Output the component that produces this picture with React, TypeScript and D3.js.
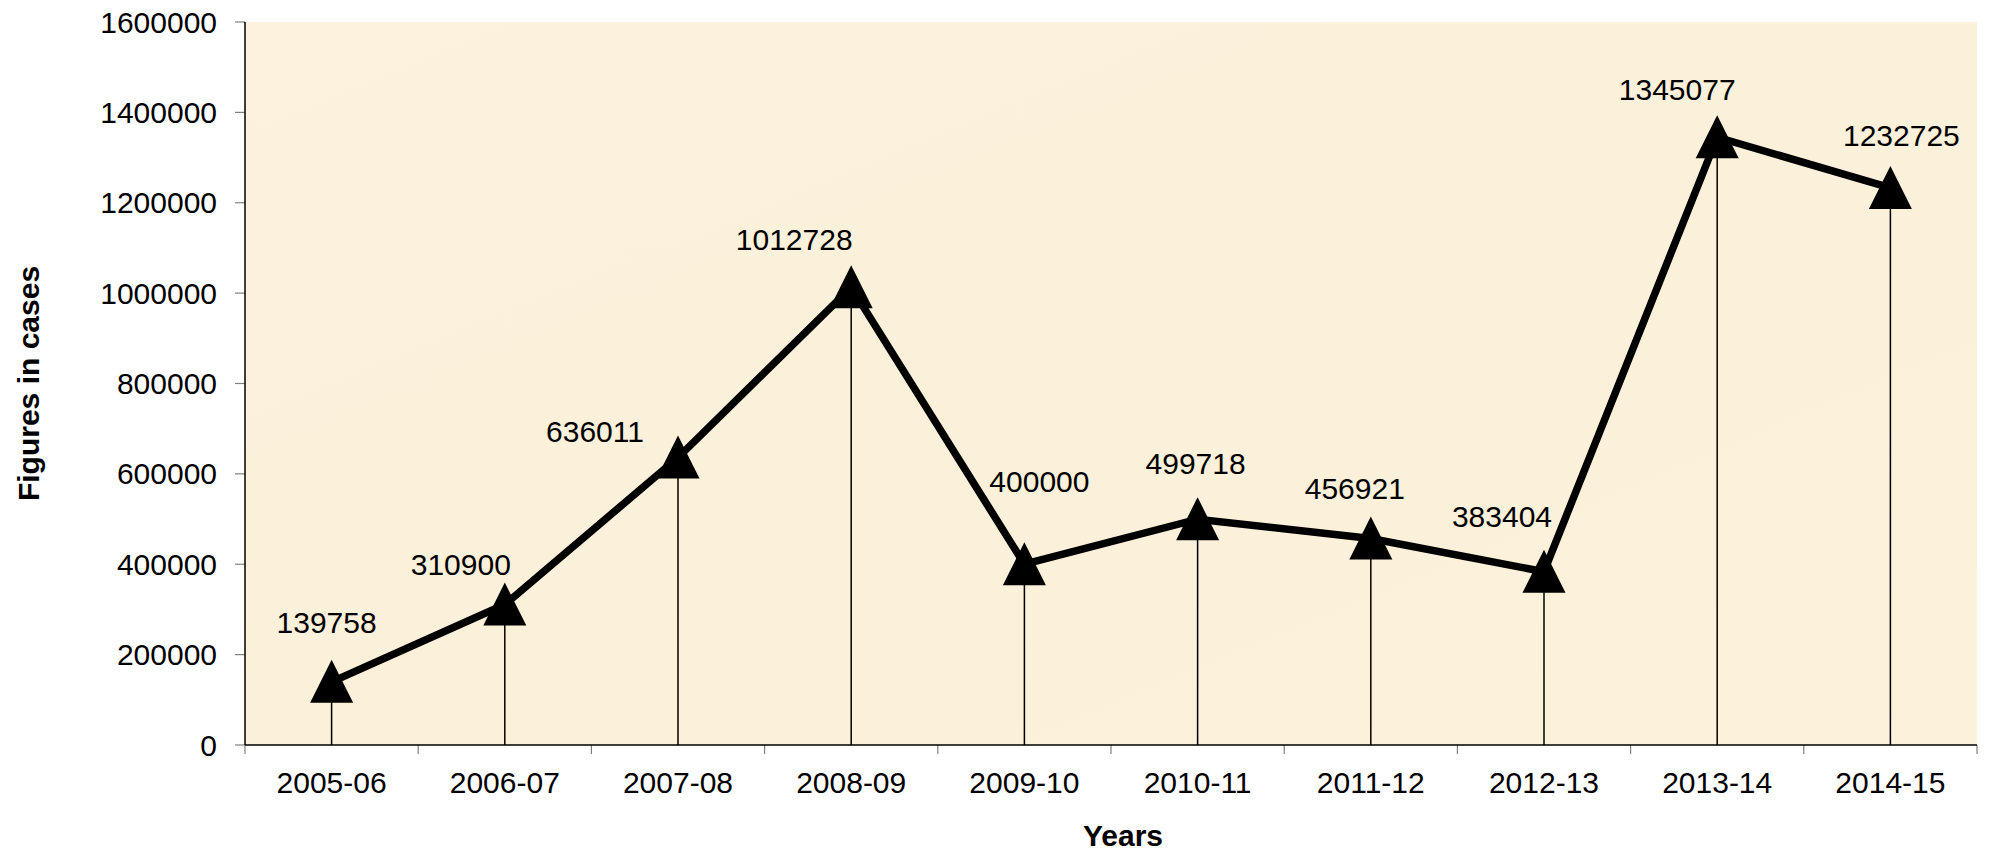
import React from "react";
import * as d3 from "d3";

const categories = ["2005-06", "2006-07", "2007-08", "2008-09", "2009-10", "2010-11", "2011-12", "2012-13", "2013-14", "2014-15"];
const cases = [139758, 310900, 636011, 1012728, 400000, 499718, 456921, 383404, 1345077, 1232725];
const yTicks = [0, 200000, 400000, 600000, 800000, 1000000, 1200000, 1400000, 1600000];

// label placement (dx, dy from point to label centre/baseline), layout only
const labelDx = [-5, -44, -83, -57, 15, -2, -16, -42, -40, 11];
const labelDy = [-49, -30, -16, -37, -72, -45, -40, -45, -37, -42];

const W = 1989;
const H = 858;
const M = { left: 245, right: 1977, top: 22, bottom: 745 };
const FONT = "'Liberation Sans', Arial, Helvetica, sans-serif";

export default function App() {
  const x = d3.scaleBand<string>().domain(categories).range([M.left, M.right]).padding(0);
  const y = d3.scaleLinear().domain([0, 1600000]).range([M.bottom, M.top]);
  const cx = (i: number) => (x(categories[i]) as number) + x.bandwidth() / 2;

  const line = d3
    .line<number>()
    .x((_, i) => cx(i))
    .y((d) => y(d));

  const tri = (px: number, py: number) => {
    const hw = 21.5;
    return `M${px},${py - 22} L${px + hw},${py + 21} L${px - hw},${py + 21} Z`;
  };

  const boundaries = [...categories.map((c) => x(c) as number), M.right];

  return (
    <svg width={W} height={H} style={{ position: "absolute", left: 0, top: 0, display: "block" }} fontFamily={FONT}>
      <rect x={0} y={0} width={W} height={H} fill="#ffffff" />
      <defs>
        <linearGradient id="bg" x1="0" y1="0" x2="1" y2="1">
          <stop offset="0" stopColor="#fcf2de" />
          <stop offset="0.5" stopColor="#fbf0d9" />
          <stop offset="1" stopColor="#fcf1db" />
        </linearGradient>
      </defs>
      <rect x={M.left} y={M.top} width={M.right - M.left} height={M.bottom - M.top} fill="url(#bg)" />

      {/* y ticks */}
      {yTicks.map((t) => (
        <g key={t}>
          <line x1={M.left - 10} x2={M.left} y1={y(t)} y2={y(t)} stroke="#808080" strokeWidth={1.2} />
          <text x={217} y={y(t) + 10.5} textAnchor="end" fontSize={30} fill="#000">
            {t}
          </text>
        </g>
      ))}

      {/* x ticks */}
      {boundaries.map((b, i) => (
        <line key={i} x1={b} x2={b} y1={M.bottom} y2={M.bottom + 9} stroke="#808080" strokeWidth={1.2} />
      ))}
      {categories.map((c, i) => (
        <text key={c} x={cx(i)} y={792.5} textAnchor="middle" fontSize={30} fill="#000">
          {c}
        </text>
      ))}

      {/* drop lines */}
      {cases.map((v, i) => (
        <line key={i} x1={cx(i)} x2={cx(i)} y1={y(v)} y2={M.bottom} stroke="#000" strokeWidth={1.5} />
      ))}

      {/* axes */}
      <line x1={M.left} x2={M.left} y1={M.top} y2={M.bottom} stroke="#000" strokeWidth={1.5} />
      <line x1={M.left} x2={M.right} y1={M.bottom} y2={M.bottom} stroke="#000" strokeWidth={1.5} />

      {/* series line */}
      <path d={line(cases) || ""} fill="none" stroke="#000" strokeWidth={7.5} strokeLinejoin="miter" />

      {/* markers */}
      {cases.map((v, i) => (
        <path key={i} d={tri(cx(i), y(v))} fill="#000" />
      ))}

      {/* data labels */}
      {cases.map((v, i) => (
        <text key={i} x={cx(i) + labelDx[i]} y={y(v) + labelDy[i]} textAnchor="middle" fontSize={30} fill="#000">
          {v}
        </text>
      ))}

      {/* axis titles */}
      <text x={1123} y={846} textAnchor="middle" fontSize={30} fontWeight="bold" fill="#000">
        Years
      </text>
      <text
        transform={`translate(39, ${(M.top + M.bottom) / 2}) rotate(-90)`}
        textAnchor="middle"
        fontSize={30}
        fontWeight="bold"
        fill="#000"
      >
        Figures in cases
      </text>
    </svg>
  );
}
